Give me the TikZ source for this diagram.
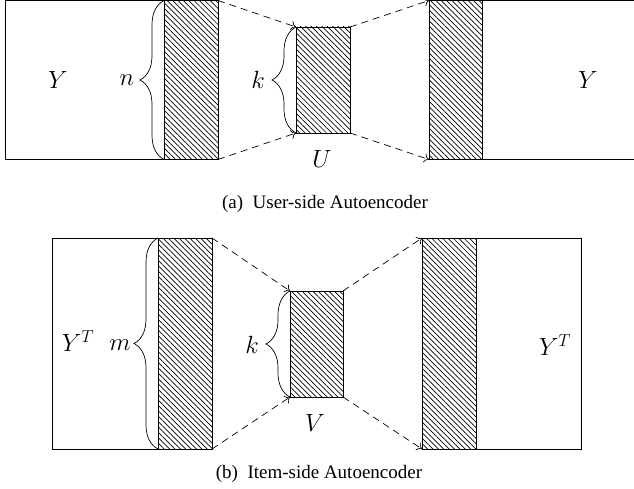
\documentclass[tikz,border=0pt]{standalone}
\usepackage{fontspec}
\setmainfont{Liberation Serif}
\usetikzlibrary{positioning,arrows.meta,patterns.meta,decorations.pathreplacing}

\begin{document}
\begin{tikzpicture}[
    x=1pt, y=-1pt,
    mbox/.style={draw, line width=0.8pt, inner sep=0pt, outer sep=0pt,
                 anchor=north west},
    code/.style={mbox,
                 pattern={Lines[angle=-45, distance=3.8pt, line width=0.7pt]}},
    link/.style={-{To[length=5pt, width=9pt]}, dashed,
                 dash pattern=on 7pt off 5pt, line width=0.7pt},
    dim/.style={decorate, decoration={brace, amplitude=24pt},
                line width=0.7pt},
    sym/.style={font=\fontsize{23}{26}\selectfont},
    caption/.style={font=\fontsize{19}{22}\selectfont},
]
\useasboundingbox (0,0) rectangle (634,489);
\clip (0,0) rectangle (634,489);

% (a) user-side autoencoder
\node[mbox, minimum width=159pt, minimum height=159pt] (ya) at (5,0.5) {};
\node[code, minimum width=54pt, minimum height=159pt,
      right=0pt of ya] (ea) {};
\node[code, minimum width=54pt, minimum height=106pt] (ua) at (296,27) {};
\node[code, minimum width=53pt, minimum height=159pt] (da) at (429,0.5) {};
\node[mbox, minimum width=200pt, minimum height=159pt,
      right=0pt of da] (yra) {};

\node[sym] (lya)  at (58,80)  {$Y$};
\node[sym] (lyra) at (588,80) {$Y$};
\node[sym] (ln)   at (127,80) {$n$};
\node[sym] (lka)  at (258,80) {$k$};
\node[sym] (lu)   at (322,159) {$U$};

\draw[dim] (ea.south west) -- (ea.north west);
\draw[dim] (ua.south west) -- (ua.north west);

\draw[link] (ea.north east) -- (ua.north west);
\draw[link] (ea.south east) -- (ua.south west);
\draw[link] (ua.north east) -- (da.north west);
\draw[link] (ua.south east) -- (da.south west);

\node[caption] (capa) at (325,204) {(a)\enspace User-side Autoencoder};

% (b) item-side autoencoder
\node[mbox, minimum width=106pt, minimum height=211pt] (yb) at (52,238) {};
\node[code, minimum width=54pt, minimum height=211pt,
      right=0pt of yb] (eb) {};
\node[code, minimum width=53pt, minimum height=106pt] (vb) at (290,291) {};
\node[code, minimum width=54pt, minimum height=211pt] (db) at (422,238) {};
\node[mbox, minimum width=105pt, minimum height=211pt,
      right=0pt of db] (yrb) {};

\node[sym] (lyb)  at (78,341)  {$Y^T$};
\node[sym] (lyrb) at (555,345) {$Y^T$};
\node[sym] (lm)   at (120,345) {$m$};
\node[sym] (lkb)  at (252,345) {$k$};
\node[sym] (lv)   at (315,423) {$V$};

\draw[dim] (eb.south west) -- (eb.north west);
\draw[dim] (vb.south west) -- (vb.north west);

\draw[link] (eb.north east) -- (vb.north west);
\draw[link] (eb.south east) -- (vb.south west);
\draw[link] (vb.north east) -- (db.north west);
\draw[link] (vb.south east) -- (db.south west);

\node[caption] (capb) at (319,474) {(b)\enspace Item-side Autoencoder};

\end{tikzpicture}
\end{document}
